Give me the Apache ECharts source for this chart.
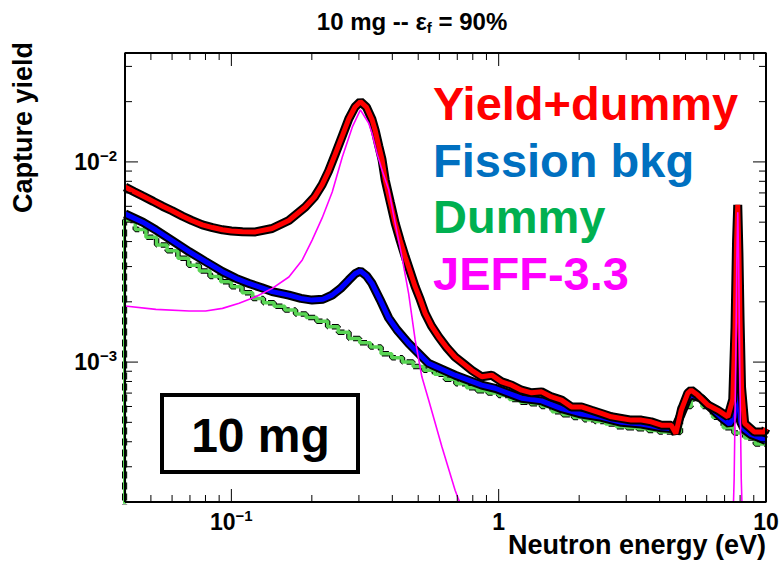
<!DOCTYPE html>
<html><head><meta charset="utf-8">
<script src="https://cdn.jsdelivr.net/npm/echarts@6/dist/echarts.min.js"></script>
<style>html,body{margin:0;padding:0;background:#fff}#c{width:780px;height:563px}</style>
</head><body><div id="c"></div>
<script>
// ---- tick values ----
const xMajorTicks = [0.1, 1, 10];
const xMinorTicks = [0.05,0.06,0.07,0.08,0.09,0.2,0.3,0.4,0.5,0.6,0.7,0.8,0.9,2,3,4,5,6,7,8,9];
const yMajorTicks = [0.001, 0.01];
const yMinorTicks = [0.0002,0.0003,0.0004,0.0005,0.0006,0.0007,0.0008,0.0009,0.002,0.003,0.004,0.005,0.006,0.007,0.008,0.009,0.02,0.03];

// ---- Yield+dummy (red) ----
const redE = [0.04,0.0433,0.0466,0.051,0.0553,0.06,0.0657,0.071,0.0779,0.085,0.0926,0.1,0.11,0.123,0.142,0.164,0.189,0.205,0.2186,0.231,0.2445,0.26,0.2749,0.29,0.3038,0.32,0.3358,0.3454,0.356,0.366,0.3764,0.393,0.41,0.428,0.447,0.467,0.487,0.509,0.531,0.56,0.5957,0.64,0.687,0.74,0.793,0.864,0.942,1.026,1.118,1.218,1.328,1.447,1.577,1.718,1.872,2.04,2.223,2.423,2.64,2.877,3.135,3.418,3.72,4.06,4.42,4.6,4.82,5.1,5.25,5.55,6.06,6.6,7.2,7.51,7.66,7.76,7.84,7.92,8.0,8.1,8.32,9.04,9.86,10];
const redY = [7.5e-3,7.1e-3,6.75e-3,6.35e-3,6.0e-3,5.7e-3,5.35e-3,5.1e-3,4.85e-3,4.7e-3,4.58e-3,4.52e-3,4.48e-3,4.47e-3,4.65e-3,5.1e-3,5.95e-3,6.7e-3,7.7e-3,9.0e-3,1.09e-2,1.35e-2,1.64e-2,1.88e-2,2.0e-2,1.88e-2,1.63e-2,1.43e-2,1.2e-2,1.03e-2,8.1e-3,6.3e-3,4.94e-3,4.05e-3,3.36e-3,2.82e-3,2.38e-3,2.05e-3,1.75e-3,1.52e-3,1.34e-3,1.18e-3,1.06e-3,9.8e-4,9.1e-4,8.45e-4,8.6e-4,7.97e-4,7.67e-4,7.24e-4,7.02e-4,7.1e-4,6.7e-4,6.46e-4,5.97e-4,5.97e-4,5.75e-4,5.54e-4,5.33e-4,5.23e-4,5.13e-4,5.13e-4,5.03e-4,4.84e-4,4.84e-4,4.4e-4,5.75e-4,7.0e-4,7.24e-4,6.84e-4,6.1e-4,5.75e-4,5.33e-4,6.5e-4,1.5e-3,4.0e-3,6.1e-3,3.5e-3,1.6e-3,7.5e-4,4.94e-4,4.48e-4,4.48e-4,4.66e-4];

// ---- Fission bkg (blue) ----
const blueE = [0.04,0.0466,0.0522,0.06,0.0695,0.08,0.0926,0.104,0.1164,0.13,0.1422,0.1641,0.182,0.2005,0.22,0.238,0.256,0.2749,0.29,0.3038,0.32,0.3358,0.36,0.3877,0.4163,0.4604,0.5466,0.687,0.864,0.969,1.218,1.447,1.718,2.04,2.423,2.877,3.418,4.06,4.55,4.82,5.1,5.25,5.72,6.23,6.78,7.3,7.6,7.76,7.84,7.92,8.05,8.3,8.77,9.4,10];
const blueY = [5.5e-3,5.0e-3,4.57e-3,4.05e-3,3.56e-3,3.18e-3,2.83e-3,2.62e-3,2.47e-3,2.35e-3,2.25e-3,2.16e-3,2.08e-3,2.04e-3,2.06e-3,2.16e-3,2.33e-3,2.57e-3,2.76e-3,2.85e-3,2.7e-3,2.47e-3,2.05e-3,1.66e-3,1.45e-3,1.24e-3,9.85e-4,8.6e-4,7.67e-4,7.4e-4,6.6e-4,6.4e-4,5.85e-4,5.5e-4,5.3e-4,5.0e-4,4.9e-4,4.7e-4,4.65e-4,5.5e-4,6.6e-4,6.85e-4,6.6e-4,5.9e-4,5.3e-4,4.9e-4,5.3e-4,6.8e-4,7.5e-4,6.4e-4,5.0e-4,4.6e-4,4.35e-4,4.2e-4,4.05e-4];

// ---- Dummy (green histogram) ----
const greenEdges = [0.0398,0.0437,0.0479,0.0525,0.0575,0.0631,0.0692,0.0759,0.0832,0.0912,0.1,0.1096,0.1202,0.1318,0.1445,0.1585,0.1738,0.1905,0.2089,0.2291,0.2512,0.2754,0.302,0.3311,0.3631,0.3981,0.4365,0.4786,0.5248,0.5754,0.631,0.6918,0.7586,0.8318,0.912,1,1.096,1.202,1.318,1.445,1.585,1.738,1.905,2.089,2.291,2.512,2.754,3.02,3.311,3.631,3.981,4.365,4.786,5.248,5.754,6.31,6.918,7.586,8.318,9.12,10];
const greenY = [5.1e-3,4.6e-3,4.2e-3,3.85e-3,3.6e-3,3.3e-3,3.05e-3,2.85e-3,2.68e-3,2.52e-3,2.38e-3,2.22e-3,2.08e-3,1.98e-3,1.9e-3,1.82e-3,1.74e-3,1.67e-3,1.6e-3,1.5e-3,1.41e-3,1.31e-3,1.25e-3,1.19e-3,1.1e-3,1.05e-3,1.0e-3,9.5e-4,9.1e-4,8.7e-4,8.2e-4,7.8e-4,7.45e-4,7.2e-4,7.0e-4,6.8e-4,6.5e-4,6.3e-4,6.2e-4,6.0e-4,5.65e-4,5.45e-4,5.28e-4,5.15e-4,5.05e-4,4.9e-4,4.75e-4,4.7e-4,4.65e-4,4.55e-4,4.48e-4,4.45e-4,6.0e-4,6.55e-4,6.0e-4,5.3e-4,4.7e-4,4.42e-4,4.18e-4,3.9e-4];
const greenFloor = 1e-6;

// ---- JEFF-3.3 (magenta) ----
const jeffE = [0.04,0.0522,0.0695,0.0801,0.0926,0.1069,0.1233,0.1422,0.1641,0.1842,0.2005,0.2186,0.2384,0.26,0.2835,0.3038,0.3265,0.3358,0.3505,0.366,0.3877,0.41,0.4344,0.4604,0.487,0.516,0.547,0.6128,0.687,0.717,0.793,1.0,7.45,7.6,7.7,7.78,7.84,7.9,7.98,8.08,8.25,10];
const jeffY = [1.905e-3,1.834e-3,1.8e-3,1.8e-3,1.855e-3,1.966e-3,2.12e-3,2.335e-3,2.66e-3,3.24e-3,4.07e-3,5.25e-3,7.08e-3,1.059e-2,1.496e-2,1.82e-2,1.56e-2,1.39e-2,1.105e-2,9.1e-3,7.25e-3,4.94e-3,3.36e-3,2.2e-3,1.29e-3,8.44e-4,6.46e-4,3.79e-4,2.29e-4,1.97e-4,1.3e-4,5e-5,1.0e-4,2.6e-4,9e-4,3.2e-3,5.6e-3,3.2e-3,9e-4,2.6e-4,1.0e-4,3e-5];

// ---- texts ----
const titleParts = ['10 mg -- \u03b5', 'f', ' = 90%'];
const xTitle = 'Neutron energy (eV)';
const yTitle = 'Capture yield';
const legendItems = [
  {text:'Yield+dummy', color:'#ff0000'},
  {text:'Fission bkg', color:'#0070c0'},
  {text:'Dummy', color:'#00b050'},
  {text:'JEFF-3.3', color:'#ff00ff'}
];
const boxLabel = '10 mg';

// ---------------------------------------------------------------
const FF = 'Liberation Sans, Arial, Helvetica, sans-serif';
const pairs = (a, b) => a.map((v, i) => [v, b[i]]);
const greenData = [[greenEdges[0], greenFloor]];
greenY.forEach((v, i) => { greenData.push([greenEdges[i], v]); greenData.push([greenEdges[i + 1], v]); });

function expLabel(v) {
  const p = Math.round(Math.log10(v));
  if (p === 0) return '{b|1}';
  if (p === 1) return '{b|10}';
  return '{b|10}{s|\u2212' + (-p) + '}';
}
const labelRich = {
  b: {fontFamily: FF, fontWeight: 'bold', fontSize: 23, color: '#000', lineHeight: 28},
  s: {fontFamily: FF, fontWeight: 'bold', fontSize: 15, color: '#000', lineHeight: 14, verticalAlign: 'top'}
};
const XMIN = 0.04, XMAX = 10, YMIN = 2e-4, YMAX = 0.035;
const GRID = {left: 125, right: 14, top: 53, bottom: 61};
const W = 780, H = 563;

function lineS(data, color, width, type) {
  return {
    type: 'line', xAxisIndex: 0, yAxisIndex: 0, data: data, symbol: 'none', showSymbol: false,
    lineStyle: {color: color, width: width, type: type || 'solid'}, silent: true, animation: false, clip: true, z: 2
  };
}

// Frame and ROOT-style inward ticks, drawn as ordinary line series through the log axes.
// Tick lengths (px) are turned into a ratio along each log axis.
const pxPerDecX = (W - GRID.left - GRID.right) / Math.log10(XMAX / XMIN);
const pxPerDecY = (H - GRID.top - GRID.bottom) / Math.log10(YMAX / YMIN);
const fx = len => Math.pow(10, len / pxPerDecX);
const fy = len => Math.pow(10, len / pxPerDecY);
const frameSeries = [];
const seg = (a, b, w) => frameSeries.push(lineS([a, b], '#000000', w || 1));
xMajorTicks.forEach(v => { seg([v, YMIN], [v, YMIN * fy(13)]); seg([v, YMAX], [v, YMAX / fy(13)]); });
xMinorTicks.forEach(v => { seg([v, YMIN], [v, YMIN * fy(7)]); seg([v, YMAX], [v, YMAX / fy(7)]); });
yMajorTicks.forEach(v => { seg([XMIN, v], [XMIN * fx(13), v]); seg([XMAX, v], [XMAX / fx(13), v]); });
yMinorTicks.forEach(v => { seg([XMIN, v], [XMIN * fx(7), v]); seg([XMAX, v], [XMAX / fx(7), v]); });
frameSeries.push(lineS([[XMIN, YMIN], [XMAX, YMIN], [XMAX, YMAX], [XMIN, YMAX], [XMIN, YMIN]], '#000000', 2));

const textGraphics = [
  {type: 'text', x: 412, y: 21, z: 10, style: {
    text: '{a|' + titleParts[0] + '}{s|' + titleParts[1] + '}{a|' + titleParts[2] + '}',
    align: 'center', verticalAlign: 'middle',
    rich: {
      a: {fontFamily: FF, fontWeight: 'bold', fontSize: 24, fill: '#000', lineHeight: 28},
      s: {fontFamily: FF, fontWeight: 'bold', fontSize: 15, fill: '#000', lineHeight: 16, verticalAlign: 'bottom'}
    }}},
  {type: 'text', x: 766, y: 545, z: 10, style: {text: xTitle, fontFamily: FF, fontWeight: 'bold', fontSize: 27, fill: '#000', align: 'right', verticalAlign: 'middle'}},
  {type: 'text', x: 23, y: 42, rotation: Math.PI / 2, z: 10, style: {text: yTitle, fontFamily: FF, fontWeight: 'bold', fontSize: 27, fill: '#000', align: 'right', verticalAlign: 'middle'}},
  ...legendItems.map((it, i) => ({type: 'text', x: 433, y: [103.5, 160, 216.5, 273][i], z: 10,
    style: {text: it.text, fontFamily: FF, fontWeight: 'bold', fontSize: 47, fill: it.color, align: 'left', verticalAlign: 'middle'}})),
  {type: 'rect', z: 10, shape: {x: 162, y: 395, width: 196, height: 77}, style: {fill: '#fff', stroke: '#000', lineWidth: 4}},
  {type: 'text', x: 260.5, y: 435.5, z: 11, style: {text: boxLabel, fontFamily: FF, fontWeight: 'bold', fontSize: 48, fill: '#000', align: 'center', verticalAlign: 'middle'}}
];

const chart = echarts.init(document.getElementById('c'), null, {renderer: 'svg', width: W, height: H});
chart.setOption({
  animation: false,
  backgroundColor: '#ffffff',
  grid: Object.assign({containLabel: false, outerBoundsMode: 'none'}, GRID),
  xAxis: {
    type: 'log', logBase: 10, min: XMIN, max: XMAX, position: 'bottom',
    axisLine: {show: false}, axisTick: {show: false}, splitLine: {show: false},
    axisLabel: {show: true, customValues: xMajorTicks, formatter: expLabel, rich: labelRich, margin: 6}
  },
  yAxis: {
    type: 'log', logBase: 10, min: YMIN, max: YMAX, position: 'left',
    axisLine: {show: false}, axisTick: {show: false}, splitLine: {show: false},
    axisLabel: {show: true, customValues: yMajorTicks, formatter: expLabel, rich: labelRich, margin: 8}
  },
  series: [
    lineS(greenData, '#000000', 5.5, [7, 4]),
    lineS(greenData, '#59d454', 3.5),
    lineS(pairs(blueE, blueY), '#000000', 9),
    lineS(pairs(blueE, blueY), '#0000ff', 5),
    lineS(pairs(redE, redY), '#000000', 9),
    lineS(pairs(redE, redY), '#ff0000', 5),
    lineS(pairs(jeffE, jeffY), '#ff00ff', 1.6)
  ].concat(frameSeries),
  graphic: textGraphics
});
</script>
</body></html>
